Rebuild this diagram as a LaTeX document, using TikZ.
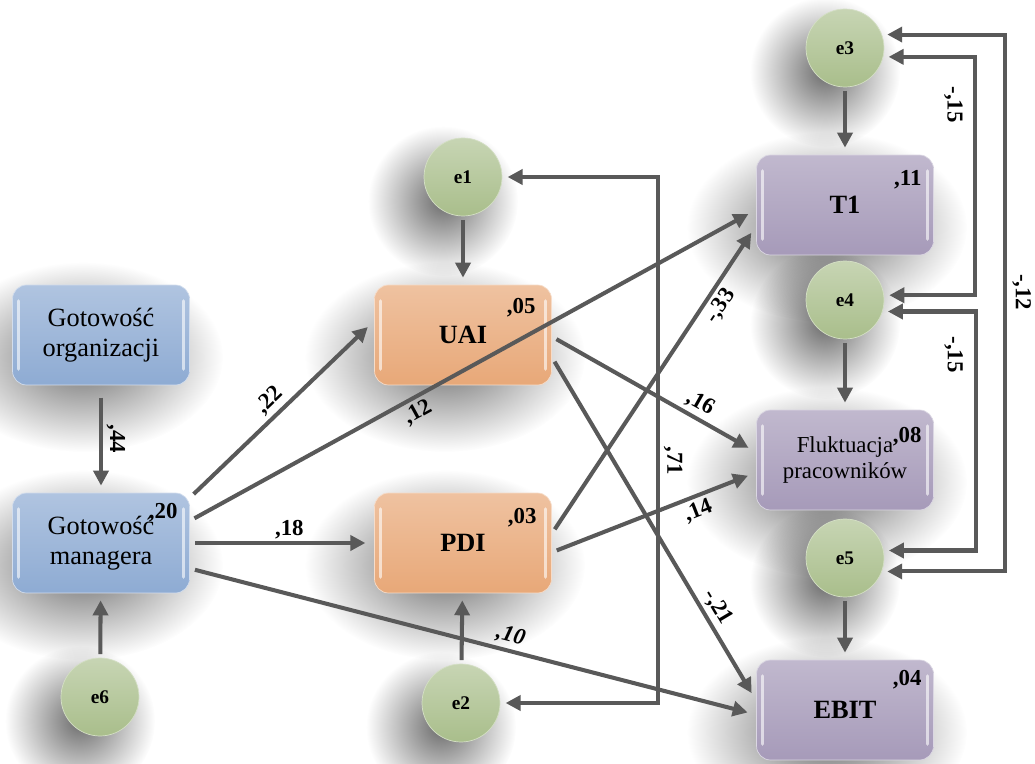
\documentclass[tikz,border=0pt]{standalone}
\usepackage{fontspec}
\setmainfont{Liberation Serif}
\usetikzlibrary{arrows.meta,fadings,positioning}

\definecolor{lnk}{HTML}{595959}
\definecolor{gblue}{HTML}{8EABD3}
\definecolor{gorange}{HTML}{E8A878}
\definecolor{gpurple}{HTML}{A69AB9}
\definecolor{ggreen}{HTML}{A9BE8B}

\pgfdeclarelayer{bg}
\pgfsetlayers{bg,main}
\tikzfading[name=softshadow, inner color=transparent!42, outer color=transparent!100]

\begin{document}
\begin{tikzpicture}[x=0.02cm, y=-0.02cm,
    >={Triangle[length=8.5pt,width=8.5pt]},
    shiny/.style={path picture={
        \draw[white, opacity=.6, line width=1.8pt, line cap=round]
          ([xshift=3.5pt,yshift=-9pt]path picture bounding box.north west)
            -- ([xshift=3.5pt,yshift=9pt]path picture bounding box.south west)
          ([xshift=-3.5pt,yshift=-9pt]path picture bounding box.north east)
            -- ([xshift=-3.5pt,yshift=9pt]path picture bounding box.south east);}},
    varbox/.style={rectangle, rounded corners=8pt, minimum width=3.54cm,
      minimum height=2cm, align=center, draw=#1!40!white, line width=.4pt,
      top color=#1!70!white, bottom color=#1, shiny,
      font=\fontsize{15}{17}\selectfont},
    boldtxt/.style={font=\fontsize{15}{17}\selectfont\bfseries},
    errc/.style={circle, minimum size=1.56cm, inner sep=0pt, draw=ggreen!50!white,
      line width=.4pt, top color=ggreen!65!white, bottom color=ggreen,
      font=\fontsize{11}{13}\selectfont\bfseries},
    val/.style={inner sep=0pt, anchor=north east, font=\fontsize{13}{15}\selectfont\bfseries},
    coef/.style={sloped, inner sep=2pt, font=\fontsize{13}{15}\selectfont\bfseries},
    vcoef/.style={rotate=-90, inner sep=2pt, font=\fontsize{13}{15}\selectfont\bfseries},
    link/.style={draw=lnk, line width=2.3pt, ->, shorten <=3pt, shorten >=5pt},
    cov/.style={link, <->, shorten <=3pt, shorten >=3pt}]
  \useasboundingbox (0,0) rectangle (1035,764);

  % observed variables
  \node[varbox=gblue] (org) at (101,335) {Gotowość\\organizacji};
  \node[varbox=gblue] (man) at (101,543) {Gotowość\\managera};
  \node[varbox=gorange, boldtxt] (uai) at (463,335) {UAI};
  \node[varbox=gorange, boldtxt] (pdi) at (463,543) {PDI};
  \node[varbox=gpurple, boldtxt] (t1) at (845,205) {T1};
  \node[varbox=gpurple, font=\fontsize{13}{15}\selectfont] (fluk) at (845,460) {Fluktuacja\\pracowników};
  \node[varbox=gpurple, boldtxt] (ebit) at (845,710) {EBIT};

  % error terms
  \foreach \e/\x/\y in {e1/463/177, e2/461/703, e3/845/48, e4/845/300, e5/845/558, e6/100/697}
    \node[errc] (\e) at (\x,\y) {\e};

  % soft shadows, lower left of every shape
  \begin{pgfonlayer}{bg}
    \fill[white] (0,0) rectangle (1035,764);
    \foreach \n in {org, man, uai, pdi, t1, fluk, ebit}
      \fill[black, path fading=softshadow] ([shift={(-18,22)}]\n.center) ellipse (2.8cm and 1.9cm);
    \foreach \n in {e1, e2, e3, e4, e5, e6}
      \fill[black, path fading=softshadow] ([shift={(-20,24)}]\n.center) circle (1.5cm);
  \end{pgfonlayer}

  % explained variance
  \foreach \n/\v/\dx/\dy in {man/20/-12/10, uai/05/-16/13, pdi/03/-15/15, t1/11/-12/15, fluk/08/-12/17, ebit/04/-12/10}
    \node[val] (v\n) at ([shift={(\dx,\dy)}]\n.north east) {,\v};

  \foreach \e/\b in {e1/uai, e2/pdi, e3/t1, e4/fluk, e5/ebit, e6/man}
    \draw[link, shorten <=2pt, shorten >=4pt] (\e) -- (\b);

  \draw[link, shorten <=7pt, shorten >=4pt] (org) -- node[vcoef, anchor=south] (c44) {,44} (man);
  \draw[link] (man.27) -- node[coef, above, pos=.49] (c22) {,22} (uai.171);
  \draw[link] (man.14) -- node[coef, below, pos=.39] (c12) {,12} (t1.183);
  \draw[link] (man.east) -- node[coef, above, pos=.54, inner sep=1pt] (c18) {,18} (pdi.west);
  \draw[link] (man.-16) -- node[coef, above, pos=.56, font=\fontsize{13}{15}\selectfont\bfseries\itshape] (c10) {,10} (ebit.183);
  \draw[link] (uai.-1) -- node[coef, above, pos=.69] (c16) {,16} (fluk.175);
  \draw[link] (uai.-14) -- node[coef, above, pos=.75] (c21) {-,21} (ebit.174);
  \draw[link] (pdi.6) -- node[coef, below, pos=.765] (c33) {-,33} (t1.193);
  \draw[link] (pdi.-6) -- node[coef, below, pos=.69] (c14) {,14} (fluk.188);

  % covariances
  \draw[cov] (e1.east) -- ++(156,0) |- node[vcoef, anchor=south, pos=.27] (c71) {,71} (e2.east);
  \draw[cov] (e3.-13) -- ++(92,0) |- node[vcoef, anchor=north, pos=.1, inner sep=6pt] (c15a) {-,15} (e4.7);
  \draw[cov] (e4.-17) -- ++(93,0) |- node[vcoef, anchor=north, pos=.09, inner sep=6pt] (c15b) {-,15} (e5.11);
  \draw[cov] (e3.20) -- ++(123,0) |- node[vcoef, anchor=south, pos=.24, inner sep=3pt] (c12b) {-,12} (e5.-20);
\end{tikzpicture}
\end{document}
